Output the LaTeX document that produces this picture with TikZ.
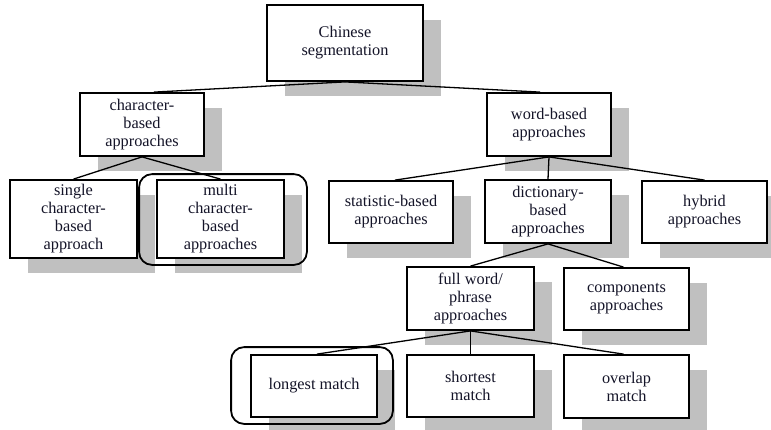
\documentclass[tikz,border=0pt]{standalone}
\usepackage{fontspec}
\setmainfont{Liberation Serif}
\usetikzlibrary{shadows,calc}
\definecolor{shadowgray}{RGB}{192,192,192}
\definecolor{textnavy}{RGB}{20,20,40}
\tikzset{
  box/.style={draw=black, line width=1.8pt, fill=white, inner sep=0pt,
    align=center, text=textnavy,
    font=\fontsize{16.3}{18}\selectfont,
    general shadow={fill=shadowgray, shadow xshift=18pt, shadow yshift=-15pt}},
  link/.style={draw=black, line width=1.3pt},
  outline/.style={draw=black, line width=1.8pt, rounded corners=13pt}
}
\begin{document}
\begin{tikzpicture}[x=1pt,y=-1pt]
\useasboundingbox (0,0) rectangle (771,429);
% nodes
\node[box, minimum width=156pt, minimum height=76pt] (chinese) at (345,43) {Chinese\\segmentation};
\node[box, minimum width=124pt, minimum height=63pt] (char) at (142,124.5) {character-\\based\\approaches};
\node[box, minimum width=124pt, minimum height=63pt] (word) at (549,124.5) {word-based\\approaches};
\node[box, minimum width=127pt, minimum height=78pt] (single) at (73.5,219) {single\\character-\\based\\approach};
\node[box, minimum width=127pt, minimum height=78pt] (multi) at (220.5,219) {multi\\character-\\based\\approaches};
\node[box, minimum width=124pt, minimum height=62pt] (stat) at (391,212) {statistic-based\\approaches};
\node[box, minimum width=126pt, minimum height=63pt] (dict) at (548,211.5) {dictionary-\\based\\approaches};
\node[box, minimum width=125pt, minimum height=62pt] (hybrid) at (704.5,212) {hybrid\\approaches};
\node[box, minimum width=127pt, minimum height=63pt] (full) at (470.5,298.5) {full word/\\phrase\\approaches};
\node[box, minimum width=125pt, minimum height=62pt] (comp) at (626.5,299) {components\\approaches};
\node[box, minimum width=126pt, minimum height=62pt] (longest) at (314,386) {longest match};
\node[box, minimum width=127pt, minimum height=62pt] (shortest) at (470.5,386) {shortest\\match};
\node[box, minimum width=125pt, minimum height=63pt] (overlap) at (626.5,386.5) {overlap\\match};
% connectors
\draw[link] (chinese.south) -- ($(char.north)+(12,0)$);
\draw[link] (chinese.south) -- ($(word.north)+(-9,0)$);
\draw[link] (char.south) -- (single.north);
\draw[link] (char.south) -- (multi.north);
\draw[link] (word.south) -- ($(stat.north)+(4,0)$);
\draw[link] (word.south) -- (dict.north);
\draw[link] (word.south) -- (hybrid.north);
\draw[link] (dict.south) -- (full.north);
\draw[link] (dict.south) -- ($(comp.north)+(-3,0)$);
\draw[link] (full.south) -- ($(longest.north)+(3,0)$);
\draw[link] (full.south) -- (shortest.north);
\draw[link] (full.south) -- ($(overlap.north)+(-3,0)$);
% highlight outlines
\coordinate (mo1) at ($(multi.north west)+(-17,-5)$);
\coordinate (mo2) at ($(multi.south east)+(22,6)$);
\draw[outline] (mo1) rectangle (mo2);
\coordinate (lo1) at ($(longest.north west)+(-19,-7)$);
\coordinate (lo2) at ($(longest.south east)+(15,6)$);
\draw[outline] (lo1) rectangle (lo2);
\end{tikzpicture}
\end{document}
